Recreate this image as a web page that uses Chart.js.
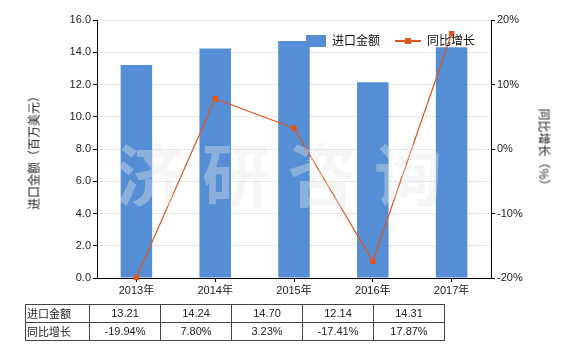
<!DOCTYPE html>
<html><head><meta charset="utf-8">
<script src="https://cdn.jsdelivr.net/npm/chart.js@4/dist/chart.umd.min.js"></script>
<style>
html,body{margin:0;padding:0;background:#fff;}
#wrap{position:relative;width:580px;height:350px;overflow:hidden;font-family:"Liberation Sans","Noto Sans CJK SC",sans-serif;}
canvas{position:absolute;left:0;top:0;}
.ytitle{position:absolute;font-size:12px;color:#222;white-space:nowrap;font-family:"Noto Sans CJK SC",sans-serif;}
#wm{position:absolute;left:116px;top:122px;font-size:68px;font-weight:bold;letter-spacing:18px;color:rgba(228,232,232,0.38);font-family:"Noto Sans CJK SC",sans-serif;pointer-events:none;white-space:nowrap;}
#legend{position:absolute;top:31px;left:306px;font-size:12px;color:#111;font-family:"Noto Sans CJK SC",sans-serif;}
table{position:absolute;left:25px;top:304px;border-collapse:collapse;font-size:11px;color:#222;}
td{border:1px solid #444;height:17px;padding:0;text-align:center;line-height:17px;}
td.h{text-align:left;padding-left:1px;font-family:"Noto Sans CJK SC",sans-serif;}
</style></head>
<body>
<div id="wrap">
<canvas id="c" width="580" height="350"></canvas>
<div id="wm">济研咨询</div>
<div class="ytitle" id="lt" style="left:33px;top:150px;transform:translate(-50%,-50%) rotate(-90deg);">进口金额（百万美元）</div>
<div class="ytitle" id="rt" style="left:545px;top:150px;transform:translate(-50%,-50%) rotate(90deg);">同比增长（%）</div>
<div id="legend"></div>
<table id="tbl"></table>
</div>
<script>
const categories = ["2013年","2014年","2015年","2016年","2017年"];
const importValues = [13.21, 14.24, 14.70, 12.14, 14.31];
const growthValues = [-19.94, 7.80, 3.23, -17.41, 17.87];
const seriesNames = ["进口金额", "同比增长"];

const barColor = "#558ed5";
const lineColor = "#e0561b";

// legend
const lg = document.getElementById('legend');
lg.innerHTML =
  '<span style="display:inline-block;width:20px;height:12px;background:'+barColor+';vertical-align:-2px;margin-right:6px"></span>' +
  '<span>'+seriesNames[0]+'</span>' +
  '<span style="display:inline-block;position:relative;width:26px;height:12px;margin-left:15px;margin-right:6px;vertical-align:-2px">' +
  '<span style="position:absolute;left:0;top:5px;width:26px;height:2px;background:'+lineColor+'"></span>' +
  '<span style="position:absolute;left:10px;top:3px;width:6px;height:6px;background:'+lineColor+'"></span></span>' +
  '<span>'+seriesNames[1]+'</span>';

// table
const tbl = document.getElementById('tbl');
let r1 = '<tr><td class="h" style="width:62px">'+seriesNames[0]+'</td>' + importValues.map(v=>'<td style="width:70px">'+v.toFixed(2)+'</td>').join('') + '</tr>';
let r2 = '<tr><td class="h">'+seriesNames[1]+'</td>' + growthValues.map(v=>'<td>'+v.toFixed(2)+'%</td>').join('') + '</tr>';
tbl.innerHTML = r1 + r2;

const tickFont = {family:'"Liberation Sans","Noto Sans CJK SC",sans-serif', size:11};

new Chart(document.getElementById('c'), {
  data: {
    labels: categories,
    datasets: [
      {type:'line', label:seriesNames[1], data:growthValues, yAxisID:'y1', order:0,
       borderColor:lineColor, backgroundColor:lineColor, borderWidth:1.2,
       pointStyle:'rect', pointRadius:3, pointHoverRadius:3, tension:0, clip:false},
      {type:'bar', label:seriesNames[0], data:importValues, yAxisID:'y', order:1,
       backgroundColor:barColor, barPercentage:0.4, categoryPercentage:1.0}
    ]
  },
  options: {
    responsive:false, animation:false,
    layout:{padding:{left:0,right:0,top:20,bottom:0}},
    plugins:{legend:{display:false}, tooltip:{enabled:false}},
    scales:{
      x:{
        grid:{drawOnChartArea:false, drawTicks:true, tickLength:4, tickColor:'#000', offset:false},
        border:{color:'#000', width:1},
        ticks:{color:'#222', font:tickFont, padding:2, maxRotation:0},
        afterFit:(s)=>{s.height=72;}
      },
      y:{
        position:'left', min:0, max:16,
        grid:{color:'#e6e6e6', tickColor:'#000', tickLength:4},
        border:{color:'#000', width:1},
        ticks:{stepSize:2, color:'#222', font:tickFont, padding:2, callback:(v)=>Number(v).toFixed(1)},
        afterFit:(s)=>{s.width=97;}
      },
      y1:{
        position:'right', min:-20, max:20,
        grid:{drawOnChartArea:false, tickColor:'#000', tickLength:4},
        border:{color:'#000', width:1},
        ticks:{stepSize:10, color:'#222', font:tickFont, padding:2, callback:(v)=>v+'%'},
        afterFit:(s)=>{s.width=89;}
      }
    }
  }
});
</script>
</body></html>
